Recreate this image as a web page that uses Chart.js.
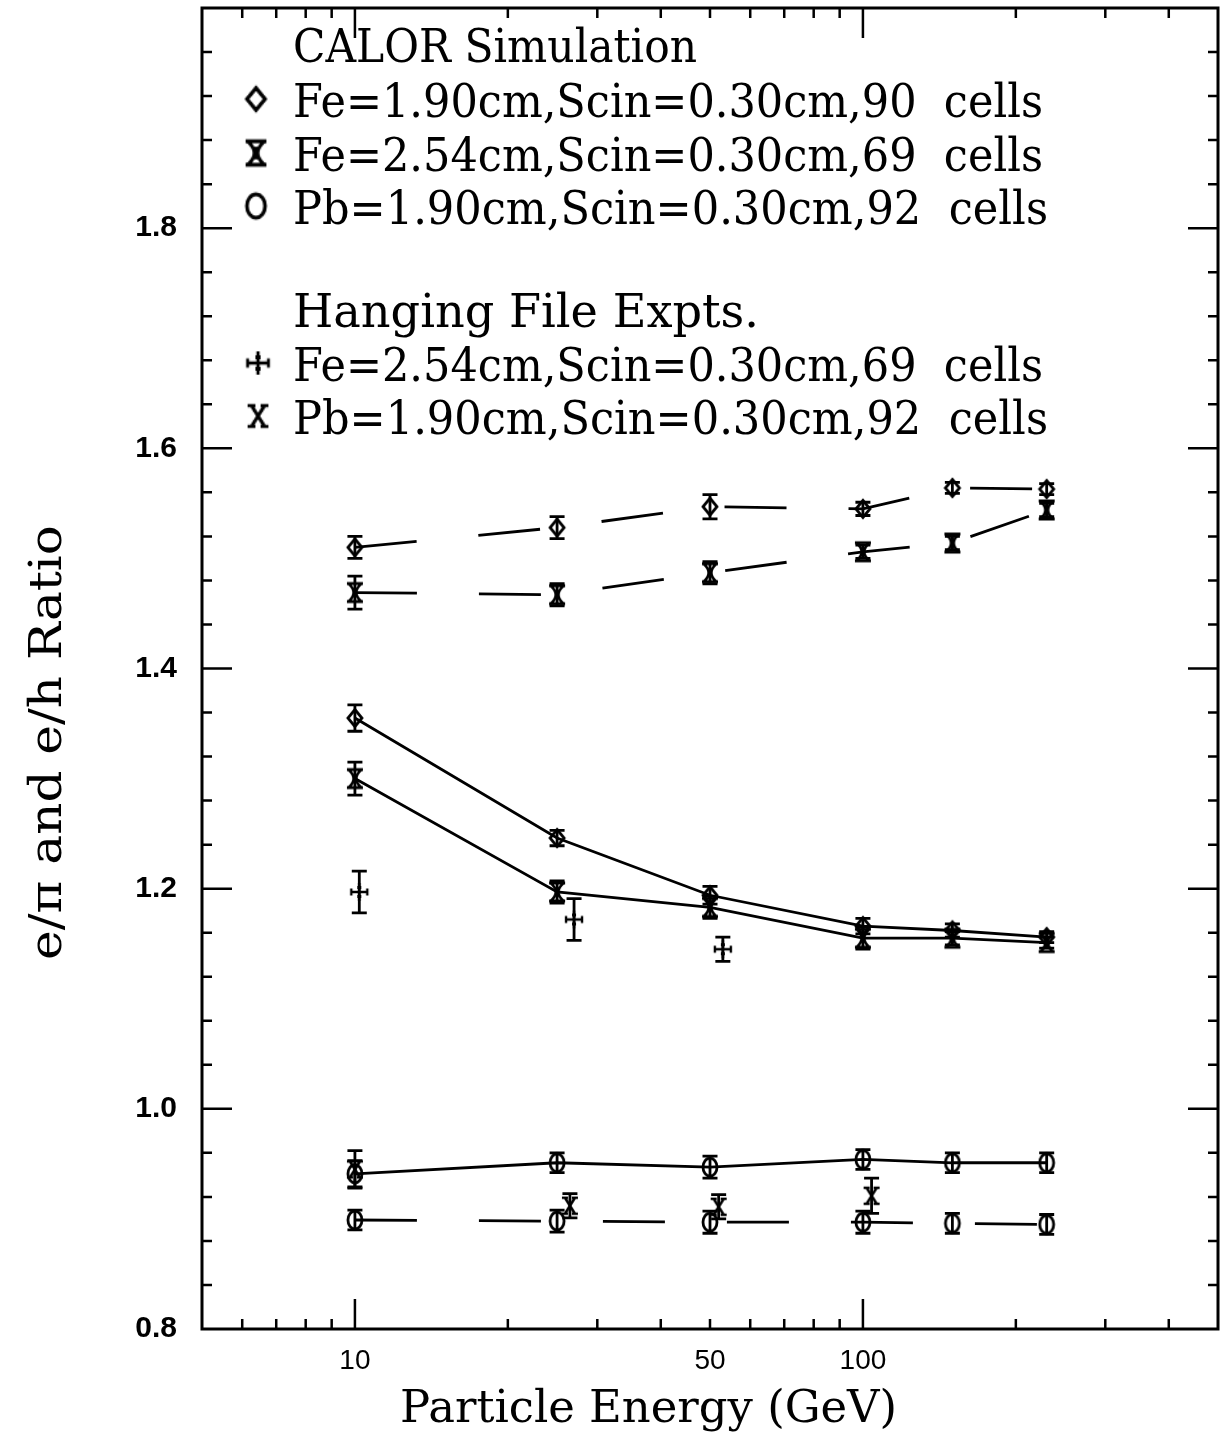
<!DOCTYPE html>
<html>
<head>
<meta charset="utf-8">
<title>e/pi and e/h ratio vs particle energy</title>
<script src="https://cdn.jsdelivr.net/npm/chart.js@4.4.1/dist/chart.umd.min.js"></script>
<style>
  html, body { margin: 0; padding: 0; background: #fff; }
  #chart { display: block; }
</style>
</head>
<body>
<canvas id="chart" width="1220" height="1438"></canvas>
<script>
// CALOR simulation beam energies (GeV)
const calorEnergy = [10, 25, 50, 100, 150, 230];

// e/h from CALOR (dashed curves)
const ehFe190 = [1.510, 1.528, 1.547, 1.545, 1.564, 1.563];
const ehFe190Err = [0.010, 0.010, 0.011, 0.006, 0.005, 0.005];
const ehFe254 = [1.469, 1.467, 1.487, 1.506, 1.514, 1.544];
const ehFe254Err = [0.015, 0.010, 0.010, 0.006, 0.006, 0.006];
const ehPb190 = [0.899, 0.898, 0.897, 0.897, 0.896, 0.895];
const ehPb190Err = [0.009, 0.010, 0.010, 0.010, 0.009, 0.009];

// e/pi from CALOR (solid curves)
const epiFe190 = [1.355, 1.246, 1.194, 1.166, 1.162, 1.156];
const epiFe190Err = [0.012, 0.007, 0.008, 0.007, 0.006, 0.005];
const epiFe254 = [1.300, 1.197, 1.183, 1.155, 1.155, 1.151];
const epiFe254Err = [0.015, 0.010, 0.010, 0.010, 0.006, 0.005];
const epiPb190 = [0.941, 0.951, 0.947, 0.954, 0.951, 0.951];
const epiPb190Err = [0.012, 0.009, 0.010, 0.009, 0.009, 0.009];

// hanging file calorimeter measurements
const hfFeEnergy = [10.2, 27, 53];
const hfFe = [1.197, 1.172, 1.145];
const hfFeErr = [0.019, 0.019, 0.011];
const hfPbEnergy = [10, 26.5, 52, 104];
const hfPb = [0.945, 0.912, 0.911, 0.921];
const hfPbErr = [0.017, 0.011, 0.011, 0.016];

// axes
const xLabelValues = [10, 50, 100];
const xMajorTicks = [10, 100];
const xMinorTicks = [6, 7, 8, 9, 20, 30, 40, 50, 60, 70, 80, 90, 200, 300, 400];
const yLabelValues = [0.8, 1.0, 1.2, 1.4, 1.6, 1.8];
const yTickLabels = ['0.8', '1.0', '1.2', '1.4', '1.6', '1.8'];

const legendCalor = [
  'Fe=1.90cm,Scin=0.30cm,90  cells',
  'Fe=2.54cm,Scin=0.30cm,69  cells',
  'Pb=1.90cm,Scin=0.30cm,92  cells'
];
const legendHF = [
  'Fe=2.54cm,Scin=0.30cm,69  cells',
  'Pb=1.90cm,Scin=0.30cm,92  cells'
];

const SERIF = '"DejaVu Serif", "Liberation Serif", serif';

// small canvases used as point symbols
function makeMarker(w, h, draw) {
  const c = document.createElement('canvas');
  c.width = w; c.height = h;
  const g = c.getContext('2d');
  g.strokeStyle = '#000';
  g.fillStyle = '#000';
  g.lineWidth = 2.8;
  g.translate(w / 2, h / 2);
  draw(g);
  return c;
}

const diamondMark = makeMarker(24, 26, g => {
  g.beginPath();
  g.moveTo(0, -8.5); g.lineTo(7, 0); g.lineTo(0, 8.5); g.lineTo(-7, 0);
  g.closePath();
  g.stroke();
});

const hourglassMark = makeMarker(24, 26, g => {
  g.beginPath();
  g.moveTo(-8, -9); g.lineTo(8, -9);
  g.moveTo(-8, 9); g.lineTo(8, 9);
  g.moveTo(-6.5, -9); g.quadraticCurveTo(4, 0, -6.5, 9);
  g.moveTo(6.5, -9); g.quadraticCurveTo(-4, 0, 6.5, 9);
  g.stroke();
  g.beginPath();
  g.ellipse(0, 0, 2, 5, 0, 0, Math.PI * 2);
  g.fill();
});

const circleMark = makeMarker(24, 26, g => {
  g.beginPath();
  g.ellipse(0, 0, 7, 9, 0, 0, Math.PI * 2);
  g.stroke();
});

const plusMark = makeMarker(26, 26, g => {
  g.lineWidth = 2.4;
  g.beginPath();
  g.moveTo(0, -9); g.lineTo(0, 9);
  g.moveTo(-8, 0); g.lineTo(8, 0);
  g.moveTo(-8, -3.5); g.lineTo(-8, 3.5);
  g.moveTo(8, -3.5); g.lineTo(8, 3.5);
  g.stroke();
  g.fillRect(-2, -6, 4, 3);
  g.fillRect(-2, 3, 4, 3);
});

const crossMark = makeMarker(26, 26, g => {
  g.lineWidth = 2.6;
  g.beginPath();
  g.moveTo(-5, -8); g.lineTo(5, 8);
  g.moveTo(5, -8); g.lineTo(-5, 8);
  g.moveTo(-8, -8); g.lineTo(-2, -8);
  g.moveTo(2, -8); g.lineTo(8, -8);
  g.moveTo(-8, 8); g.lineTo(-2, 8);
  g.moveTo(2, 8); g.lineTo(8, 8);
  g.stroke();
});

function points(xs, ys) {
  return xs.map((x, i) => ({ x: x, y: ys[i] }));
}

function curve(values, errors, marker, dashed) {
  return {
    data: points(calorEnergy, values),
    errorBars: errors,
    showLine: true,
    borderColor: '#000',
    borderWidth: 2.8,
    borderDash: dashed ? [62, 62] : [],
    tension: 0,
    pointStyle: marker,
    pointRadius: 8,
    pointHoverRadius: 8
  };
}

function measured(xs, values, errors, marker) {
  return {
    data: points(xs, values),
    errorBars: errors,
    showLine: false,
    borderColor: '#000',
    pointStyle: marker,
    pointRadius: 8,
    pointHoverRadius: 8
  };
}

// vertical error bars with caps
const errorBarPlugin = {
  id: 'errorBars',
  afterDatasetsDraw(chart) {
    const ctx = chart.ctx;
    const xs = chart.scales.x, ys = chart.scales.y;
    ctx.save();
    ctx.strokeStyle = '#000';
    ctx.lineWidth = 2.8;
    chart.data.datasets.forEach(ds => {
      if (!ds.errorBars) return;
      ds.data.forEach((p, i) => {
        const px = xs.getPixelForValue(p.x);
        const top = ys.getPixelForValue(p.y + ds.errorBars[i]);
        const bot = ys.getPixelForValue(p.y - ds.errorBars[i]);
        ctx.beginPath();
        ctx.moveTo(px, top); ctx.lineTo(px, bot);
        ctx.moveTo(px - 7.5, top); ctx.lineTo(px + 7.5, top);
        ctx.moveTo(px - 7.5, bot); ctx.lineTo(px + 7.5, bot);
        ctx.stroke();
      });
    });
    ctx.restore();
  }
};

function fitText(ctx, text, x, y, width) {
  const w = ctx.measureText(text).width;
  ctx.save();
  ctx.translate(x, y);
  ctx.scale(width / w, 1);
  ctx.fillText(text, 0, 0);
  ctx.restore();
}

// legend symbols are drawn a bit larger than the plotted ones
function legendMark(ctx, m, cx, cy) {
  const k = 1.3;
  ctx.drawImage(m, cx - m.width * k / 2, cy - m.height * k / 2, m.width * k, m.height * k);
}

// frame with inward ticks on all four sides, legend block and axis titles
const framePlugin = {
  id: 'frame',
  afterDraw(chart) {
    const ctx = chart.ctx;
    const { left, right, top, bottom } = chart.chartArea;
    const xs = chart.scales.x, ys = chart.scales.y;
    ctx.save();
    ctx.strokeStyle = '#000';
    ctx.fillStyle = '#000';

    ctx.lineWidth = 3;
    ctx.strokeRect(left, top, right - left, bottom - top);

    ctx.lineWidth = 2.5;
    ctx.beginPath();
    const xTick = (v, len) => {
      const px = xs.getPixelForValue(v);
      ctx.moveTo(px, bottom); ctx.lineTo(px, bottom - len);
      ctx.moveTo(px, top); ctx.lineTo(px, top + len);
    };
    xMajorTicks.forEach(v => xTick(v, 30));
    xMinorTicks.forEach(v => xTick(v, 10));
    for (let k = 1; k < 30; k++) {
      const v = 0.8 + k * 0.04;
      const len = k % 5 === 0 ? 30 : 10;
      const py = ys.getPixelForValue(v);
      ctx.moveTo(left, py); ctx.lineTo(left + len, py);
      ctx.moveTo(right, py); ctx.lineTo(right - len, py);
    }
    ctx.stroke();

    // legend
    ctx.font = '46px ' + SERIF;
    ctx.textAlign = 'left';
    ctx.textBaseline = 'alphabetic';
    fitText(ctx, 'CALOR Simulation', 293, 62, 404);
    const calorRows = [117, 171, 224];
    const calorMarks = [diamondMark, hourglassMark, circleMark];
    legendCalor.forEach((t, i) => {
      fitText(ctx, t, 293, calorRows[i], i === 2 ? 755 : 750);
      legendMark(ctx, calorMarks[i], 256, calorRows[i] - 18);
    });
    fitText(ctx, 'Hanging File Expts.', 293, 327, 466);
    const hfRows = [381, 434];
    const hfMarks = [plusMark, crossMark];
    legendHF.forEach((t, i) => {
      fitText(ctx, t, 293, hfRows[i], i === 1 ? 755 : 750);
      legendMark(ctx, hfMarks[i], 258, hfRows[i] - 18);
    });

    // axis titles
    ctx.font = '44px ' + SERIF;
    fitText(ctx, 'Particle Energy (GeV)', 400, 1422, 497);
    ctx.save();
    ctx.translate(61, 960);
    ctx.rotate(-Math.PI / 2);
    fitText(ctx, 'e/\u03c0 and e/h Ratio', 0, 0, 435);
    ctx.restore();

    ctx.restore();
  }
};

// keep the plot box fixed: no automatic label overflow padding
function fixBox(size, key) {
  return s => {
    s[key] = size;
    s.paddingTop = 0; s.paddingBottom = 0;
    s.paddingLeft = 0; s.paddingRight = 0;
  };
}

new Chart(document.getElementById('chart'), {
  type: 'scatter',
  data: {
    datasets: [
      curve(ehFe190, ehFe190Err, diamondMark, true),
      curve(ehFe254, ehFe254Err, hourglassMark, true),
      curve(ehPb190, ehPb190Err, circleMark, true),
      curve(epiFe190, epiFe190Err, diamondMark, false),
      curve(epiFe254, epiFe254Err, hourglassMark, false),
      curve(epiPb190, epiPb190Err, circleMark, false),
      measured(hfFeEnergy, hfFe, hfFeErr, plusMark),
      measured(hfPbEnergy, hfPb, hfPbErr, crossMark)
    ]
  },
  options: {
    responsive: false,
    animation: false,
    devicePixelRatio: 1,
    layout: { padding: { top: 8, right: 2, left: 0, bottom: 0 }, autoPadding: false },
    plugins: { legend: { display: false }, tooltip: { enabled: false } },
    scales: {
      x: {
        type: 'logarithmic',
        min: 5,
        max: 500,
        grid: { display: false, drawTicks: false },
        border: { display: false },
        afterBuildTicks: s => { s.ticks = xLabelValues.map(v => ({ value: v })); },
        afterFit: fixBox(109, 'height'),
        ticks: {
          autoSkip: false,
          maxRotation: 0,
          padding: 15,
          color: '#000',
          font: { family: '"Liberation Sans", Arial, sans-serif', size: 28 },
          callback: v => String(v)
        }
      },
      y: {
        min: 0.8,
        max: 2.0,
        grid: { display: false, drawTicks: false },
        border: { display: false },
        afterBuildTicks: s => { s.ticks = yLabelValues.map(v => ({ value: v })); },
        afterFit: fixBox(202, 'width'),
        ticks: {
          padding: 25,
          color: '#000',
          font: { family: '"Liberation Sans", Arial, sans-serif', size: 30, weight: 'bold' },
          callback: (v, i) => yTickLabels[i]
        }
      }
    }
  },
  plugins: [errorBarPlugin, framePlugin]
});
</script>
</body>
</html>
